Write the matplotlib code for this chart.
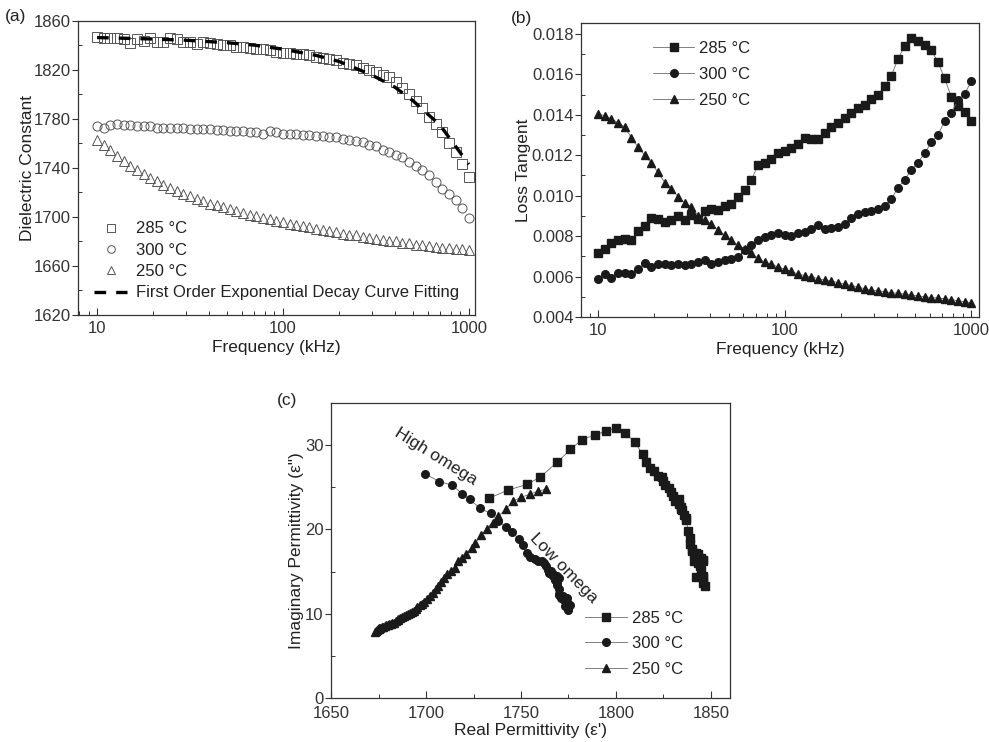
import numpy as np
import matplotlib
matplotlib.use("Agg")
from matplotlib import pyplot as plt
from matplotlib.lines import Line2D
from matplotlib.ticker import MultipleLocator, LogLocator, FixedLocator, FixedFormatter, NullFormatter

plt.rcParams['font.family'] = ['Liberation Sans', 'DejaVu Sans']
plt.rcParams['font.size'] = 12
plt.rcParams['text.color'] = '#222222'
plt.rcParams['axes.labelcolor'] = '#222222'
plt.rcParams['xtick.color'] = '#333333'
plt.rcParams['ytick.color'] = '#333333'
plt.rcParams['axes.edgecolor'] = '#333333'

# frequency sweep (kHz)
freq = [10.0, 10.86, 11.79, 12.80, 13.89, 15.09, 16.38, 17.78, 19.31, 20.96,
        22.76, 24.71, 26.83, 29.13, 31.62, 34.34, 37.28, 40.47, 43.94, 47.71,
        51.79, 56.23, 61.05, 66.28, 71.97, 78.14, 84.83, 92.10, 100.0, 108.6,
        117.9, 128.0, 138.9, 150.9, 163.8, 177.8, 193.1, 209.6, 227.6, 247.1,
        268.3, 291.3, 316.2, 343.4, 372.8, 404.7, 439.4, 477.1, 517.9, 562.3,
        610.5, 662.8, 719.7, 781.4, 848.3, 921.0, 1000.0]

# dielectric constant
eps_285 = [1847, 1846, 1846, 1846, 1845, 1842, 1845, 1844, 1846, 1843,
           1843, 1846, 1845, 1843, 1843, 1841, 1843, 1842, 1841, 1840,
           1840, 1839, 1839, 1838, 1837, 1837, 1836, 1835, 1834, 1834,
           1833, 1833, 1832, 1831, 1830, 1829, 1828, 1826, 1825, 1824,
           1822, 1820, 1818, 1816, 1814, 1810, 1805, 1800, 1795, 1789,
           1782, 1776, 1769, 1760, 1753, 1743, 1733]
eps_300 = [1774.5, 1773, 1775, 1776, 1775, 1775, 1774, 1774, 1774, 1773,
           1773, 1773, 1773, 1773, 1772, 1772, 1772, 1772, 1771, 1771,
           1770, 1770, 1770, 1769, 1769, 1768, 1770, 1769, 1768, 1768,
           1768, 1767, 1767, 1766, 1766, 1765, 1765, 1764, 1763, 1762,
           1761, 1759, 1757.6, 1755, 1753, 1751, 1749, 1745, 1742, 1738,
           1734, 1728.6, 1723, 1719, 1713.7, 1707, 1699.5]
eps_250 = [1763, 1759, 1755, 1750, 1746, 1742, 1738, 1735, 1732, 1729,
           1726, 1724, 1721, 1719, 1717, 1715, 1713, 1711, 1709.5, 1708,
           1706.5, 1705, 1703.5, 1702, 1700.5, 1699, 1698, 1697, 1695.5, 1694.5,
           1693.5, 1692.5, 1691.5, 1690.5, 1689.5, 1688.5, 1687.5, 1686.5, 1685.5, 1685,
           1684, 1683, 1682, 1681.5, 1680.5, 1680, 1679, 1678.5, 1677.5, 1677,
           1676, 1675.5, 1675, 1674.5, 1674, 1673.5, 1673]

# exponential decay fit of the 285 C curve
fit_freq = [10, 20, 30, 50, 70, 100, 150, 200, 300, 400, 500, 700, 1000]
fit_eps = [1846.5, 1845.3, 1844.3, 1842.3, 1840.3, 1837, 1832, 1827, 1816, 1806, 1795, 1775, 1743]

# loss tangent
tan_285 = [0.00717, 0.00736, 0.00768, 0.00782, 0.00785, 0.00780, 0.00825, 0.00848, 0.00888, 0.00883,
           0.00872, 0.00882, 0.00898, 0.00880, 0.00905, 0.00885, 0.00925, 0.00935, 0.00930, 0.00948,
           0.00958, 0.00995, 0.01030, 0.01078, 0.01150, 0.01160, 0.01180, 0.01213, 0.01223, 0.01235,
           0.01258, 0.01285, 0.01282, 0.01278, 0.01310, 0.01338, 0.01360, 0.01385, 0.01410, 0.01435,
           0.01448, 0.01478, 0.01500, 0.01540, 0.01593, 0.01676, 0.01740, 0.01780, 0.01765, 0.01745,
           0.01720, 0.01660, 0.01580, 0.01488, 0.01445, 0.01414, 0.01367]
tan_300 = [0.00590, 0.00615, 0.00592, 0.00619, 0.00620, 0.00615, 0.00635, 0.00668, 0.00645, 0.00661,
           0.00661, 0.00656, 0.00664, 0.00656, 0.00664, 0.00672, 0.00680, 0.00661, 0.00672, 0.00684,
           0.00689, 0.00695, 0.00730, 0.00755, 0.00780, 0.00794, 0.00805, 0.00815, 0.00805, 0.00800,
           0.00813, 0.00822, 0.00833, 0.00855, 0.00835, 0.00838, 0.00846, 0.00860, 0.00888, 0.00910,
           0.00921, 0.00925, 0.00935, 0.00950, 0.00983, 0.01040, 0.01079, 0.01128, 0.01164, 0.01210,
           0.01263, 0.01301, 0.01367, 0.01410, 0.01475, 0.01504, 0.01565]
tan_250 = [0.01405, 0.01395, 0.01380, 0.01360, 0.01340, 0.01285, 0.01240, 0.01200, 0.01160, 0.01115,
           0.01065, 0.01035, 0.00995, 0.00965, 0.00945, 0.00900, 0.00880, 0.00860, 0.00830, 0.00805,
           0.00780, 0.00755, 0.00734, 0.00714, 0.00690, 0.00672, 0.00660, 0.00648, 0.00635, 0.00625,
           0.00612, 0.00605, 0.00598, 0.00590, 0.00582, 0.00578, 0.00570, 0.00562, 0.00555, 0.00548,
           0.00540, 0.00532, 0.00530, 0.00525, 0.00520, 0.00517, 0.00513, 0.00508, 0.00504, 0.00500,
           0.00496, 0.00494, 0.00490, 0.00486, 0.00480, 0.00476, 0.00470]

labels = ['285 °C', '300 °C', '250 °C']
markers = ['s', 'o', '^']
eps_all = [eps_285, eps_300, eps_250]
tan_all = [tan_285, tan_300, tan_250]

INK = '#1a1a1a'
LINE = '#6a6a6a'


def style_axes(ax, xpad=4):
    for s in ax.spines.values():
        s.set_linewidth(0.9)
    ax.tick_params(axis='x', which='major', direction='in', length=5, width=0.8, pad=xpad,
                   top=False, labelsize=12)
    ax.tick_params(axis='x', which='minor', direction='in', length=3, width=0.7, top=False)
    ax.tick_params(axis='y', which='major', direction='out', length=4, width=0.8, pad=1.5,
                   right=False, labelsize=12)
    ax.tick_params(axis='y', which='minor', direction='in', length=3, width=0.7, right=False)


def freq_axis(ax):
    ax.set_xscale('log')
    ax.set_xlim(7.9, 1080)
    ax.xaxis.set_major_locator(FixedLocator([10, 100, 1000]))
    ax.xaxis.set_major_formatter(FixedFormatter(['10', '100', '1000']))
    ax.xaxis.set_minor_locator(LogLocator(base=10, subs=np.arange(2, 10)))
    ax.xaxis.set_minor_formatter(NullFormatter())
    ax.set_xlabel('Frequency (kHz)', fontsize=12.5, labelpad=3)


fig = plt.figure(figsize=(9.89, 7.42), dpi=100)

# (a) dielectric constant
ax_a = fig.add_axes([0.0789, 0.5755, 0.4014, 0.3962])
for eps, m, lab in zip(eps_all, markers, labels):
    ax_a.plot(freq, eps, linestyle='none', marker=m, ms=6.5, mfc='none', mec='#555555',
              mew=0.7, label=lab)
ax_a.plot(fit_freq, fit_eps, color='black', lw=2.4, dashes=(3.5, 3.0), zorder=5)
freq_axis(ax_a)
ax_a.set_ylim(1620, 1860)
ax_a.yaxis.set_major_locator(FixedLocator(np.arange(1620, 1861, 40)))
ax_a.yaxis.set_minor_locator(FixedLocator(np.arange(1620, 1861, 20)))
ax_a.set_ylabel('Dielectric Constant', fontsize=12.5, labelpad=-1)
style_axes(ax_a)
handles_a = [Line2D([], [], linestyle='none', marker=m, ms=5.5, mfc='none', mec='#555555', mew=0.7)
             for m in markers]
handles_a.append(Line2D([], [], color='black', lw=2.4, dashes=(3.5, 3.0)))
ax_a.legend(handles_a, labels + ['First Order Exponential Decay Curve Fitting'],
            loc='upper left', bbox_to_anchor=(0.04, 0.318), frameon=False, fontsize=12,
            handlelength=2.0, handletextpad=0.55, labelspacing=0.38, borderpad=0,
            borderaxespad=0)

# (b) loss tangent
ax_b = fig.add_axes([0.5875, 0.5728, 0.4024, 0.3962])
for tan, m, lab in zip(tan_all, markers, labels):
    ax_b.plot(freq, tan, color=LINE, lw=0.6, marker=m, ms=5.5, mfc=INK, mec=INK, label=lab)
freq_axis(ax_b)
ax_b.set_xlim(8.1, 1100)
ax_b.set_ylim(0.004, 0.01854)
ax_b.yaxis.set_major_locator(MultipleLocator(0.002))
ax_b.yaxis.set_minor_locator(MultipleLocator(0.001))
ax_b.yaxis.set_major_formatter(plt.FormatStrFormatter('%.3f'))
ax_b.set_ylabel('Loss Tangent', fontsize=12.5, labelpad=0.5)
style_axes(ax_b)
ax_b.legend(loc='upper left', bbox_to_anchor=(0.18, 0.94), frameon=False, fontsize=12,
            handlelength=2.5, handletextpad=0.3, labelspacing=0.68, borderpad=0,
            borderaxespad=0)

# (c) Cole-Cole style plot, eps'' = eps' * tan(delta)
ax_c = fig.add_axes([0.3347, 0.0593, 0.4034, 0.3976])
for eps, tan, m, lab in zip(eps_all, tan_all, markers, labels):
    eps_imag = np.array(eps) * np.array(tan)
    ax_c.plot(eps, eps_imag, color=LINE, lw=0.6, marker=m, ms=5.5, mfc=INK, mec=INK, label=lab)
ax_c.set_xlim(1650, 1860)
ax_c.set_ylim(0, 35)
ax_c.xaxis.set_major_locator(MultipleLocator(50))
ax_c.xaxis.set_minor_locator(MultipleLocator(25))
ax_c.yaxis.set_major_locator(MultipleLocator(10))
ax_c.yaxis.set_minor_locator(MultipleLocator(5))
ax_c.set_xlabel("Real Permittivity (ε')", fontsize=12.5, labelpad=2)
ax_c.set_ylabel('Imaginary Permittivity (ε")', fontsize=12.5, labelpad=0.5)
style_axes(ax_c, xpad=5.5)
ax_c.text(1705, 28.7, 'High omega', rotation=-32, ha='center', va='center', fontsize=12.5)
ax_c.text(1772.5, 15.4, 'Low omega', rotation=-46, ha='center', va='center', fontsize=12.5)
ax_c.legend(loc='upper left', bbox_to_anchor=(0.637, 0.295), frameon=False, fontsize=12,
            handlelength=2.5, handletextpad=0.3, labelspacing=0.62, borderpad=0,
            borderaxespad=0)

fig.text(0.005, 0.988, '(a)', fontsize=12.5, va='top')
fig.text(0.517, 0.985, '(b)', fontsize=12.5, va='top')
fig.text(0.280, 0.470, '(c)', fontsize=12.5, va='top')

fig.savefig('out.png', dpi=100)
